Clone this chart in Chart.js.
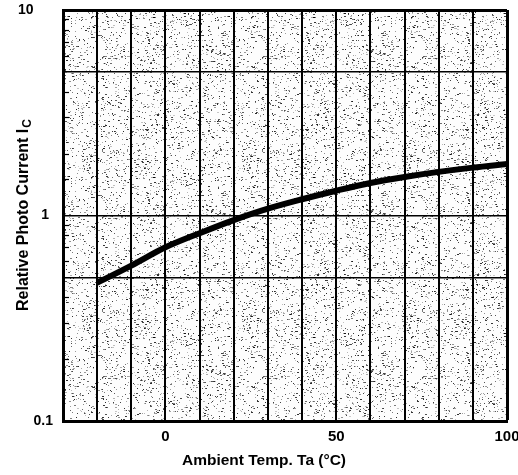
<!DOCTYPE html>
<html>
<head>
<meta charset="utf-8">
<script src="https://cdn.jsdelivr.net/npm/chart.js@4.4.1/dist/chart.umd.min.js"></script>
<style>
  html, body { margin: 0; padding: 0; background: #fff; }
  #wrap { width: 518px; height: 475px; position: relative; }
</style>
</head>
<body>
<div id="wrap"><canvas id="photoChart" width="518" height="475"></canvas></div>
<script>
// curve
var temps = [-20, -10, 0, 10, 20, 30, 40, 50, 60, 70, 80, 90, 100];
var current = [0.47, 0.57, 0.70, 0.82, 0.95, 1.08, 1.20, 1.32, 1.44, 1.54, 1.63, 1.71, 1.78];

var xLabels = [0, 50, 100];
var yLabels = [0.1, 1, 10];
var yGridValues = [0.1, 0.5, 1, 5, 10];

var xTitle = 'Ambient Temp. Ta (\u00b0C)';
var yTitleMain = 'Relative Photo Current I';
var yTitleSub = 'C';

var FONT = "'Liberation Sans', Arial, sans-serif";

function near(v, list) {
  for (var i = 0; i < list.length; i++) {
    if (Math.abs(v - list[i]) < 1e-6 * Math.max(1, list[i])) return true;
  }
  return false;
}

// stippled paper background (fixed seed so it is the same every time)
function makeSpeckle() {
  var c = document.createElement('canvas');
  c.width = 160; c.height = 160;
  var g = c.getContext('2d');
  g.fillStyle = '#fdfdfd';
  g.fillRect(0, 0, 160, 160);
  var seed = 12345;
  function rnd() { seed = (seed * 1103515245 + 12345) % 2147483648; return seed / 2147483648; }
  for (var i = 0; i < 2100; i++) {
    var a = 0.2 + rnd() * 0.65;
    g.fillStyle = 'rgba(0,0,0,' + a.toFixed(2) + ')';
    var w = rnd() < 0.3 ? 2 : 1;
    g.fillRect(Math.floor(rnd() * 160), Math.floor(rnd() * 160), w, 1);
  }
  return c;
}

var speckle = {
  id: 'speckle',
  beforeDraw: function(chart) {
    var a = chart.chartArea, ctx = chart.ctx;
    ctx.save();
    ctx.fillStyle = ctx.createPattern(makeSpeckle(), 'repeat');
    ctx.fillRect(a.left, a.top, a.right - a.left, a.bottom - a.top);
    ctx.restore();
  }
};

// small log ticks inside the left edge, and the two axis titles
var extras = {
  id: 'extras',
  afterDraw: function(chart) {
    var a = chart.chartArea, ctx = chart.ctx, ys = chart.scales.y;
    ctx.save();
    ctx.strokeStyle = '#000';
    ctx.lineWidth = 1.2;
    ys.ticks.forEach(function(t) {
      if (near(t.value, yGridValues)) return;
      var py = Math.round(ys.getPixelForValue(t.value)) + 0.5;
      ctx.beginPath();
      ctx.moveTo(a.left, py);
      ctx.lineTo(a.left + 6, py);
      ctx.stroke();
    });

    ctx.fillStyle = '#000';
    ctx.textBaseline = 'middle';

    // x title
    ctx.font = 'bold 15.5px ' + FONT;
    ctx.textAlign = 'center';
    ctx.fillText(xTitle, 264, 461);

    // y title with subscript C
    ctx.translate(24, 215);
    ctx.rotate(-Math.PI / 2);
    ctx.font = 'bold 16px ' + FONT;
    var w1 = ctx.measureText(yTitleMain).width;
    ctx.font = 'bold 12px ' + FONT;
    var w2 = ctx.measureText(yTitleSub).width;
    var x0 = -(w1 + w2 + 1) / 2;
    ctx.textAlign = 'left';
    ctx.font = 'bold 16px ' + FONT;
    ctx.fillText(yTitleMain, x0, 0);
    ctx.font = 'bold 12px ' + FONT;
    ctx.fillText(yTitleSub, x0 + w1 + 1, 4);
    ctx.restore();
  }
};

var ctx = document.getElementById('photoChart').getContext('2d');

var myChart = new Chart(ctx, {
  type: 'line',
  data: {
    labels: temps,
    datasets: [{
      data: temps.map(function(t, i) { return { x: t, y: current[i] }; }),
      borderColor: '#000',
      borderWidth: 6,
      pointRadius: 0,
      fill: false,
      cubicInterpolationMode: 'monotone'
    }]
  },
  options: {
    responsive: false,
    animation: false,
    layout: { padding: { left: 0, right: 11, top: 10, bottom: 0 } },
    plugins: {
      legend: { display: false },
      tooltip: { enabled: false }
    },
    scales: {
      x: {
        type: 'linear',
        min: -30,
        max: 100,
        afterFit: function(scale) {
          scale.height = 54;
          scale.paddingLeft = 0;
          scale.paddingRight = 0;
        },
        ticks: {
          stepSize: 10,
          autoSkip: false,
          maxRotation: 0,
          padding: 7,
          color: '#000',
          font: { family: FONT, size: 15, weight: 'bold' },
          callback: function(v) { return xLabels.indexOf(v) >= 0 ? String(v) : ''; }
        },
        grid: {
          color: '#000',
          lineWidth: function(c) { return (c.tick && c.tick.value === 100) ? 3 : 2; },
          drawTicks: false
        },
        border: { display: true, color: '#000', width: 3 }
      },
      y: {
        type: 'logarithmic',
        min: 0.1,
        max: 10,
        afterFit: function(scale) {
          scale.width = 63;
          scale.paddingTop = 0;
          scale.paddingBottom = 0;
        },
        ticks: {
          autoSkip: false,
          padding: 10,
          color: '#000',
          font: { family: FONT, size: 14, weight: 'bold' },
          callback: function(v) {
            if (!near(v, yLabels)) return '';
            if (v < 1) return '0.1';
            return v > 5 ? '10     ' : '1 ';
          }
        },
        grid: {
          color: function(c) {
            return (c.tick && near(c.tick.value, yGridValues)) ? '#000' : 'rgba(0,0,0,0)';
          },
          lineWidth: function(c) {
            return (c.tick && near(c.tick.value, [10])) ? 3 : 1.5;
          },
          drawTicks: false
        },
        border: { display: true, color: '#000', width: 3 }
      }
    }
  },
  plugins: [speckle, extras]
});
</script>
</body>
</html>
